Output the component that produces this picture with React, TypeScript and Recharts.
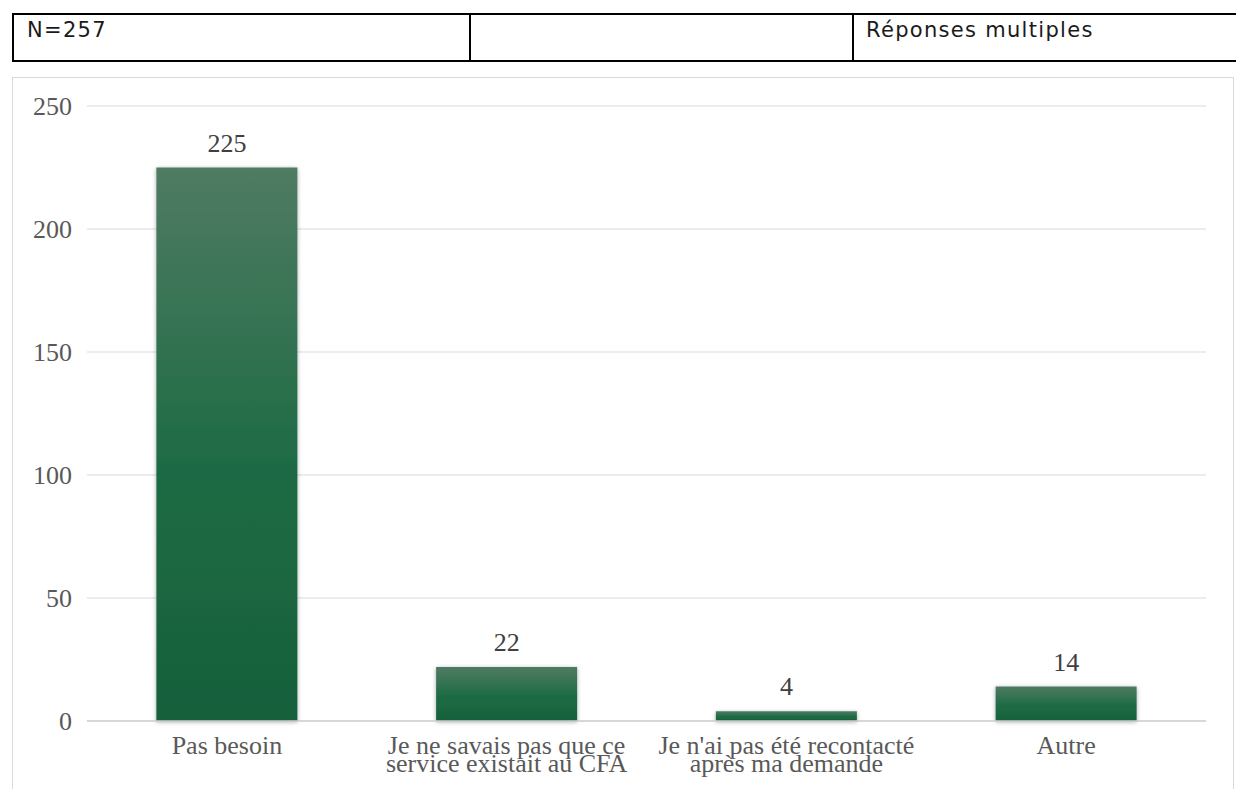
import React from 'react';
import { BarChart, Bar, XAxis, YAxis, CartesianGrid, LabelList } from 'recharts';

const categories = [
  'Pas besoin',
  'Je ne savais pas que ce service existait au CFA',
  "Je n'ai pas été recontacté après ma demande",
  'Autre',
];
const counts = [225, 22, 4, 14];
const yTicks = [0, 50, 100, 150, 200, 250];
const headerLeft = 'N=257';
const headerRight = 'Réponses multiples';

const data = categories.map((name, i) => ({ name, value: counts[i] }));

const SERIF = '"Liberation Serif", "Times New Roman", serif';
const SANS = '"DejaVu Sans", sans-serif';
const LABEL_FONT = '26px "Liberation Serif"';

let ctx: CanvasRenderingContext2D | null = null;
function measure(s: string): number {
  if (!ctx) {
    const c = document.createElement('canvas');
    ctx = c.getContext('2d');
  }
  if (!ctx) return s.length * 11;
  ctx.font = LABEL_FONT;
  return ctx.measureText(s).width;
}

function wrap(text: string, maxWidth: number): string[] {
  const words = text.split(' ');
  const lines: string[] = [];
  let cur = '';
  for (const w of words) {
    const test = cur ? cur + ' ' + w : w;
    if (cur && measure(test) > maxWidth) {
      lines.push(cur);
      cur = w;
    } else {
      cur = test;
    }
  }
  if (cur) lines.push(cur);
  return lines;
}

const CategoryTick = (props: any) => {
  const { x, y, payload } = props;
  const lines = wrap(String(payload.value), 276);
  return (
    <text
      x={x}
      y={y}
      textAnchor="middle"
      fill="#595959"
      style={{ fontFamily: SERIF, fontSize: 26 }}
    >
      {lines.map((l, i) => (
        <tspan key={i} x={x} dy={i === 0 ? 18.5 : 18.5}>
          {l}
        </tspan>
      ))}
    </text>
  );
};

const headerText: React.CSSProperties = {
  position: 'absolute',
  top: 18,
  fontFamily: SANS,
  fontSize: 21,
  lineHeight: '24px',
  letterSpacing: 1.3,
  color: '#1a1a1a',
  whiteSpace: 'nowrap',
};

export default function App() {
  return (
    <div style={{ position: 'absolute', left: 0, top: 0, width: 1236, height: 789, overflow: 'hidden', background: '#fff' }}>
      {/* header table */}
      <div
        style={{
          position: 'absolute',
          left: 12,
          top: 13,
          width: 1240,
          height: 45,
          border: '2px solid #000',
          boxSizing: 'content-box',
        }}
      />
      <div style={{ position: 'absolute', left: 469, top: 13, width: 2, height: 49, background: '#000' }} />
      <div style={{ position: 'absolute', left: 852, top: 13, width: 2, height: 49, background: '#000' }} />
      <div style={{ ...headerText, left: 27 }}>{headerLeft}</div>
      <div style={{ ...headerText, left: 866 }}>{headerRight}</div>

      {/* chart frame */}
      <div
        style={{
          position: 'absolute',
          left: 12,
          top: 77,
          width: 1220,
          height: 730,
          border: '1px solid #d9d9d9',
        }}
      />

      <div style={{ position: 'absolute', left: 12, top: 77 }}>
        <BarChart
          width={1222}
          height={712}
          data={data}
          margin={{ top: 29, right: 28, left: 0, bottom: 0 }}
          barCategoryGap="24.8%"
        >
          <defs>
            <linearGradient id="barGrad" x1="0" y1="0" x2="0" y2="1">
              <stop offset="0%" stopColor="#4f7b63" />
              <stop offset="55%" stopColor="#1d6b44" />
              <stop offset="100%" stopColor="#17603b" />
            </linearGradient>
            <filter id="barShadow" filterUnits="userSpaceOnUse" x="0" y="0" width="1236" height="789">
              <feDropShadow dx="0" dy="1" stdDeviation="2.2" floodColor="#000" floodOpacity="0.35" />
            </filter>
          </defs>
          <CartesianGrid vertical={false} stroke="#d9d9d9" strokeWidth={1} />
          <XAxis
            dataKey="name"
            interval={0}
            height={68}
            tickLine={false}
            tickSize={0}
            tickMargin={14}
            axisLine={{ stroke: '#d0d0d0', strokeWidth: 1.5 }}
            tick={<CategoryTick />}
          />
          <YAxis
            width={75}
            domain={[0, 250]}
            ticks={yTicks}
            axisLine={false}
            tickLine={false}
            tickSize={0}
            tickMargin={15}
            tick={{ fill: '#595959', fontSize: 26, fontFamily: SERIF }}
          />
          <Bar dataKey="value" fill="url(#barGrad)" filter="url(#barShadow)" isAnimationActive={false}>
            <LabelList
              dataKey="value"
              position="top"
              offset={16}
              fill="#404040"
              style={{ fontFamily: SERIF, fontSize: 26 }}
            />
          </Bar>
        </BarChart>
      </div>
    </div>
  );
}
